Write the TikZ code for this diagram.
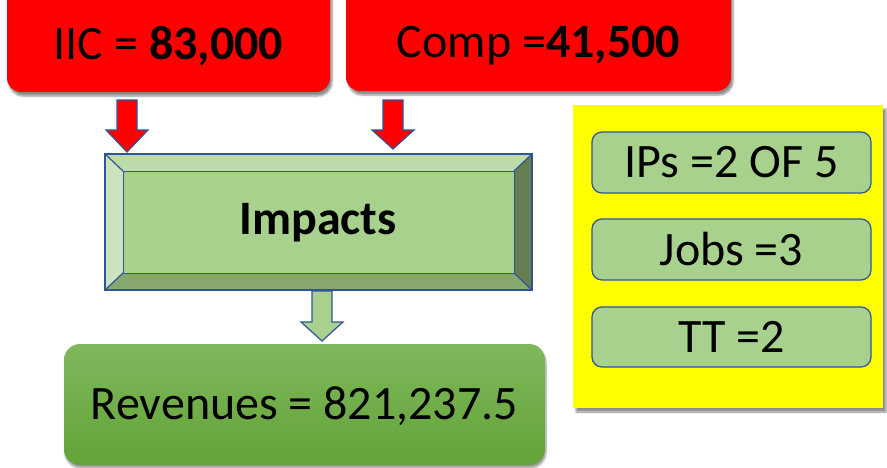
\documentclass[tikz,border=0pt]{standalone}
\usepackage{fontspec}
\setmainfont{Carlito}
\usetikzlibrary{shadows.blur}
\definecolor{redf}{RGB}{255,0,0}
\definecolor{bord}{RGB}{47,85,151}
\definecolor{lgreen}{RGB}{169,209,142}
\definecolor{bvtop}{RGB}{189,219,169}
\definecolor{bvleft}{RGB}{204,227,191}
\definecolor{bvright}{RGB}{101,127,82}
\definecolor{bvbot}{RGB}{136,167,111}
\definecolor{revtop}{RGB}{127,184,93}
\definecolor{revbot}{RGB}{99,163,55}
\definecolor{yel}{RGB}{255,255,0}
\tikzset{
  redbox/.style={draw=none, fill=redf, rounded corners=14pt, blur shadow={shadow xshift=2pt, shadow yshift=-4pt, shadow blur steps=6, shadow opacity=45}},
  txt/.style={font=\fontsize{48}{52}\selectfont, text=black, inner sep=0pt},
  smallbox/.style={draw=bord, line width=1.2pt, fill=lgreen, rounded corners=10pt},
  blockarrow/.style={draw=bord, line width=1.2pt, line join=miter},
}
\begin{document}
\begin{tikzpicture}[x=1pt,y=-1pt]
\useasboundingbox (0,0) rectangle (887,467);
\clip (0,0) rectangle (887,467);
% red boxes
\path[redbox] (7,-20) rectangle (330,92);
\path[redbox] (346,-20) rectangle (731,91);
\node[txt] (iic) at (168.5,46) {IIC = \textbf{83,000}};
\node[txt] (comp) at (538.5,46) {Comp =\textbf{41,500}};
% red arrows
\draw[blockarrow, fill=redf] (117,100) -- (137,100) -- (137,130) -- (148,130) -- (127,152) -- (106,130) -- (117,130) -- cycle;
\draw[blockarrow, fill=redf] (383,100) -- (403,100) -- (403,130) -- (414,130) -- (393,149) -- (372,130) -- (383,130) -- cycle;
% bevel box
\fill[bvtop] (105,154) -- (532,154) -- (514,171) -- (123,171) -- cycle;
\fill[bvleft] (105,154) -- (123,171) -- (123,273) -- (105,290) -- cycle;
\fill[bvright] (532,154) -- (532,290) -- (514,273) -- (514,171) -- cycle;
\fill[bvbot] (105,290) -- (123,273) -- (514,273) -- (532,290) -- cycle;
\draw[bord, line width=1.2pt] (105,154) -- (123,171) (532,154) -- (514,171) (105,290) -- (123,273) (532,290) -- (514,273);
\draw[bord, line width=1.5pt] (105,154) rectangle (532,290);
\node[draw=bord, line width=1.2pt, fill=lgreen, minimum width=391pt, minimum height=102pt, inner sep=0pt, anchor=north west] (impbox) at (123,171) {};
\node[txt] (impacts) at (318,223) {\textbf{Impacts}};
% green arrow
\draw[blockarrow, fill=lgreen] (312,291) -- (332,291) -- (332,322) -- (343,322) -- (322,341) -- (301,322) -- (312,322) -- cycle;
% revenues
\path[rounded corners=16pt, top color=revtop, bottom color=revbot, blur shadow={shadow xshift=1pt, shadow yshift=-3pt, shadow blur steps=6, shadow opacity=40}] (64,344) rectangle (545,465);
\node[txt] (rev) at (304.5,406) {Revenues = 821,237.5};
% yellow panel
\path[fill=yel, blur shadow={shadow xshift=3pt, shadow yshift=-4pt, shadow blur steps=6, shadow opacity=45}] (573,105) rectangle (883,408);
\path[smallbox] (592,132) rectangle (871,193);
\path[smallbox] (592,219) rectangle (871,280);
\path[smallbox] (592,307) rectangle (871,367);
\node[txt] (ips) at (731.5,162.5) {IPs =2 OF 5};
\node[txt] (jobs) at (731.5,249.5) {Jobs =3};
\node[txt] (tt) at (731.5,337) {TT =2};
\end{tikzpicture}
\end{document}
